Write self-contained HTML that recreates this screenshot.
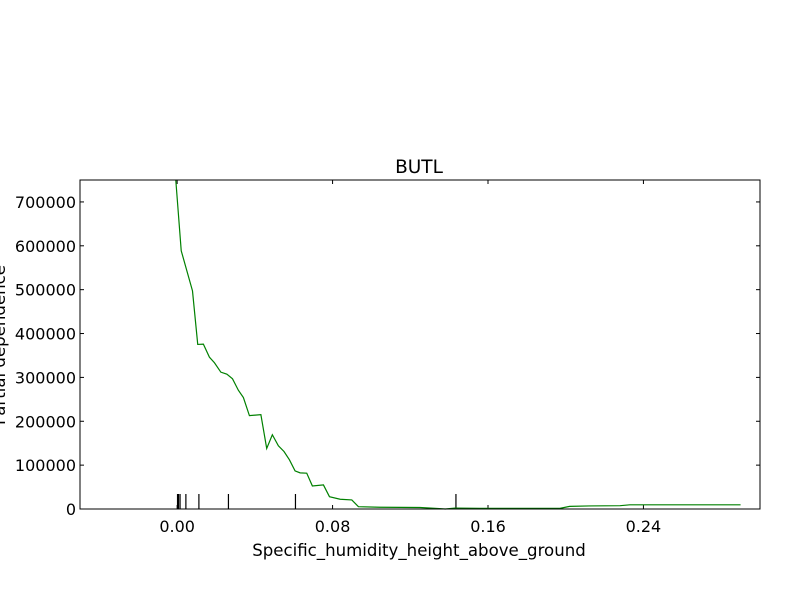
<!DOCTYPE html>
<html><head><meta charset="utf-8"><style>
body{margin:0;background:#fff;}
svg text{font-family:"DejaVu Sans","Liberation Sans",sans-serif;fill:#000;}
</style></head><body>
<svg id="chart" width="800" height="600">
<rect width="800" height="600" fill="#fff"/>
<text x="419" y="173" font-size="18.5" text-anchor="middle">BUTL</text>
<g id="ticks"></g>
<g id="rug"></g>
<polyline id="line" fill="none" stroke="#008000" stroke-width="1.2"/>
<rect x="80" y="180" width="680" height="329" fill="none" stroke="#000" stroke-width="1"/>
<text x="419" y="556" font-size="16.6" text-anchor="middle">Specific_humidity_height_above_ground</text>
<text transform="translate(5,345) rotate(-90)" font-size="16.6" text-anchor="middle">Partial dependence</text>
</svg>
<script>
const xVals=[-0.0007,0.0021,0.0079,0.0106,0.0135,0.0166,0.0192,0.0225,0.0256,0.0285,0.0315,0.0341,0.0372,0.0431,0.0461,0.0490,0.0521,0.0550,0.0578,0.0607,0.0633,0.0667,0.0696,0.0753,0.0784,0.0839,0.0899,0.0933,0.1044,0.125,0.135,0.138,0.143,0.156,0.197,0.202,0.212,0.228,0.233,0.290];
const yVals=[760000,588700,497200,375200,375900,346200,333400,311900,307300,296800,270700,254000,212800,215100,138000,169300,144100,131100,112100,86900,82400,81700,52600,54900,28100,22200,20600,5300,4000,3500,1000,0,2000,1500,1500,6000,7000,7500,9500,9500];
const rugVals=[0.0002,0.0007,0.0015,0.0045,0.0112,0.0264,0.0609,0.1435];
const xTicks=[0,0.08,0.16,0.24];
const xTickLabels=["0.00","0.08","0.16","0.24"];
const yTicks=[0,100000,200000,300000,400000,500000,600000,700000];
const yTickLabels=["0","100000","200000","300000","400000","500000","600000","700000"];
const L=80,R=760,T=180,B=509,xmin=-0.05,xmax=0.30,ymin=0,ymax=750000;
const sx=v=>L+(v-xmin)/(xmax-xmin)*(R-L);
const sy=v=>B-(v-ymin)/(ymax-ymin)*(B-T);
const NS="http://www.w3.org/2000/svg";
const tg=document.getElementById('ticks');
function mk(tag,attrs,parent){const e=document.createElementNS(NS,tag);for(const k in attrs)e.setAttribute(k,attrs[k]);parent.appendChild(e);return e;}
xTicks.forEach((v,i)=>{const x=sx(v);
 const a=mk('line',{x1:x,x2:x,y1:B,y2:B-4,stroke:'#000'},tg);
 
 
 const b=mk('line',{x1:x,x2:x,y1:T,y2:T+4,stroke:'#000'},tg);
 
 
 const t=mk('text',{x:x,y:B+23,'font-size':16,'text-anchor':'middle'},tg);t.textContent=xTickLabels[i];
 
 });
yTicks.forEach((v,i)=>{const y=sy(v);
 const a=mk('line',{x1:L,x2:L+4,y1:y,y2:y,stroke:'#000'},tg);
 
 
 const b=mk('line',{x1:R,x2:R-4,y1:y,y2:y,stroke:'#000'},tg);
 
 
 const t=mk('text',{x:L-4,y:y+6,'font-size':16,'text-anchor':'end'},tg);t.textContent=yTickLabels[i];
 
 });
const rg=document.getElementById('rug');
rugVals.forEach(v=>{const x=sx(v);
 const l=mk('line',{x1:x,x2:x,y1:B,y2:B-15,stroke:'#000','stroke-width':1.2},rg);
 
 });
document.getElementById('line').setAttribute('points',xVals.map((v,i)=>sx(v)+','+Math.max(T,sy(yVals[i]))).join(' '));
</script>
</body></html>
